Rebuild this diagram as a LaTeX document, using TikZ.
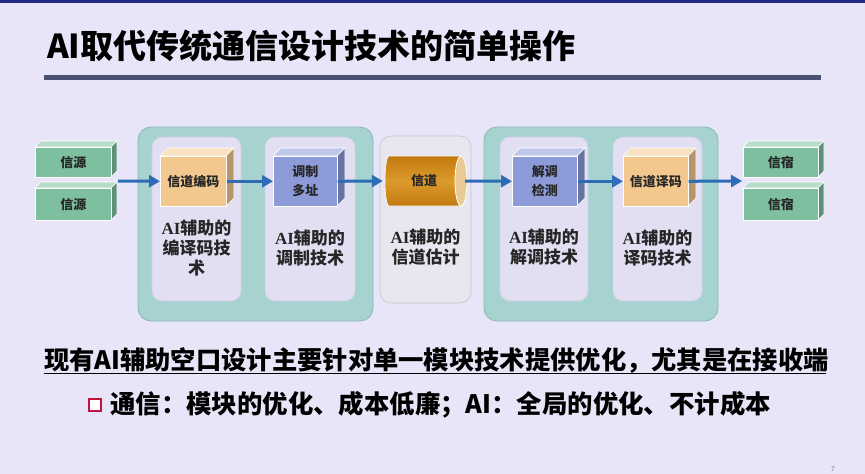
\documentclass[tikz,border=0pt]{standalone}
\usepackage{fontspec}
\setmainfont{Noto Sans CJK SC}
\newfontfamily\serifAI{Liberation Serif}
\usetikzlibrary{arrows.meta}
\definecolor{bgc}{HTML}{E7E5F7}
\definecolor{topc}{HTML}{1F2A80}
\definecolor{barc}{HTML}{4B5173}
\definecolor{tealc}{HTML}{A6D3CF}
\definecolor{tealb}{HTML}{8FB5B6}
\definecolor{colc}{HTML}{E2DFF2}
\definecolor{colb}{HTML}{D3D0E6}
\definecolor{grayc}{HTML}{E8E6EF}
\definecolor{grayb}{HTML}{C6C4D2}
\definecolor{orc}{HTML}{F3C88E}
\definecolor{blc}{HTML}{8D9BD8}
\definecolor{grc}{HTML}{7DBF9F}
\definecolor{arrc}{HTML}{2D6CB7}
\definecolor{cylc}{HTML}{DC9A2C}
\definecolor{cyld}{HTML}{C27A10}
\definecolor{cyle}{HTML}{E9CA95}
\definecolor{redc}{HTML}{C0143C}
\newcommand\mycube[8]{% name, x1,y1,x2,y2, depth, color, text
  \fill[#7!55!white, draw=white, line width=0.6pt] (#2,#3) -- ({#2+#6},{#3-#6}) -- ({#4+#6},{#3-#6}) -- (#4,#3) -- cycle;
  \fill[#7!75!black, draw=white, line width=0.6pt] (#4,#3) -- ({#4+#6},{#3-#6}) -- ({#4+#6},{#5-#6}) -- (#4,#5) -- cycle;
  \node[boxface, fill=#7, anchor=north west, minimum width={(#4-#2)*1pt}, minimum height={(#5-#3)*1pt}] (#1) at (#2,#3) {#8};
}
\begin{document}
\begin{tikzpicture}[x=1pt,y=-1pt,
  boxface/.style={draw=white, line width=0.6pt, inner sep=0pt, align=center, font=\fontsize{13}{19}\selectfont\bfseries, text=black!85},
  group/.style={fill=tealc, draw=tealb, line width=0.8pt, rounded corners=13pt},
  column/.style={fill=colc, draw=colb, line width=0.6pt, rounded corners=10pt},
  lab/.style={align=center, inner sep=0pt, font=\fontsize{17}{20}\selectfont\bfseries, text=black!85},
  flow/.style={draw=arrc, line width=3pt, -{Triangle[length=11pt,width=12pt]}}
]
\useasboundingbox (0,0) rectangle (865,474);
\fill[bgc] (0,0) rectangle (865,474);
\fill[topc] (0,0) rectangle (865,2.5);
\node[anchor=west, inner sep=0pt, font=\fontsize{33}{36}\selectfont\bfseries] (title) at (47,46) {AI取代传统通信设计技术的简单操作};
\fill[barc] (44,74.5) rectangle (821,79.5);
% groups
\path[group] (138,127) rectangle (373,321);
\path[group] (484,127) rectangle (718,321);
\path[column] (152,137) rectangle (241,301);
\path[column] (265,137) rectangle (355,301);
\path[column] (500,137) rectangle (588,301);
\path[column] (613,137) rectangle (702,301);
\path[fill=grayc, draw=grayb, line width=0.6pt, rounded corners=11pt] (380,136) rectangle (471,303);
% sources and sinks
\mycube{s1}{35}{147}{111}{177}{6}{grc}{信源}
\mycube{s2}{35}{188}{111}{220}{6}{grc}{信源}
\mycube{d1}{743}{147}{818}{177}{6}{grc}{信宿}
\mycube{d2}{743}{188}{818}{220}{6}{grc}{信宿}
% cubes
\mycube{enc}{160}{156}{226}{206}{8}{orc}{信道编码}
\mycube{mod}{273}{156}{337}{206}{8}{blc}{调制\\多址}
\mycube{dem}{512}{156}{577}{206}{8}{blc}{解调\\检测}
\mycube{dec}{623}{156}{688}{206}{8}{orc}{信道译码}
% channel cylinder
\shade[top color=cyld, bottom color=cyld, middle color=cylc, draw=white, line width=0.6pt]
  (389,156) -- (461,156) -- (461,206) -- (389,206) arc[start angle=90, end angle=270, x radius=4, y radius=25] -- cycle;
\fill[cyle, draw=white, line width=0.8pt] (461,181) ellipse[x radius=6, y radius=25];
\node[inner sep=0pt, minimum width=82pt, minimum height=50pt, font=\fontsize{13}{19}\selectfont\bfseries, text=black!85] (chan) at (424,181) {信道};
% arrows
\coordinate (src) at (118,181);
\coordinate (snk) at (742,181);
\draw[flow] (src) -- (enc.west);
\draw[flow] (enc.east) -- (mod.west);
\draw[flow] (mod.east) -- (chan.west);
\draw[flow] (chan.east) -- (dem.west);
\draw[flow] (dem.east) -- (dec.west);
\draw[flow] (dec.east) -- (snk);
% labels
\node[lab] (l1) at (196.5,248) {{\serifAI AI}辅助的\\编译码技\\术};
\node[lab] (l2) at (310,247.5) {{\serifAI AI}辅助的\\调制技术};
\node[lab] (l3) at (425.5,247.5) {{\serifAI AI}辅助的\\信道估计};
\node[lab] (l4) at (544,247.5) {{\serifAI AI}辅助的\\解调技术};
\node[lab] (l5) at (657.5,247.5) {{\serifAI AI}辅助的\\译码技术};
% bottom text
\node[anchor=west, inner sep=0pt, font=\fontsize{25.3}{28}\selectfont\bfseries] (t1) at (44,361) {现有AI辅助空口设计主要针对单一模块技术提供优化，尤其是在接收端};
\draw[black, line width=1.6pt] (44,373.5) -- (826,373.5);
\node[draw=redc, line width=2.2pt, fill=white, minimum size=12pt, inner sep=0pt] (bul) at (95,405) {};
\node[anchor=west, inner sep=0pt, font=\fontsize{25.4}{28}\selectfont\bfseries] (t2) at (110,405) {通信：模块的优化、成本低廉；AI：全局的优化、不计成本};
\node[font=\fontsize{7}{8}\selectfont, text=gray] (pg) at (833,469) {7};
\end{tikzpicture}
\end{document}
